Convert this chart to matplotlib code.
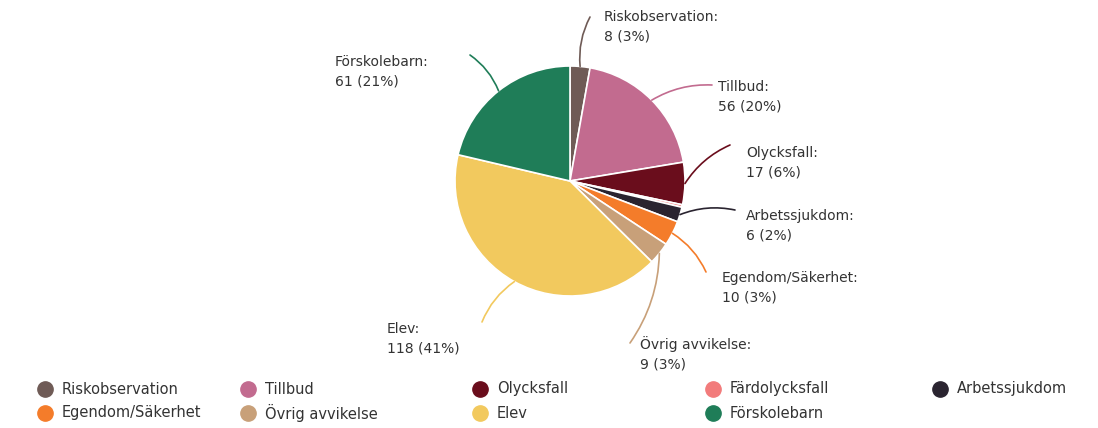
import numpy as np
import matplotlib.pyplot as plt

# slice data (clockwise from 12 o'clock)
categories = ['Riskobservation', 'Tillbud', 'Olycksfall', 'Färdolycksfall', 'Arbetssjukdom',
              'Egendom/Säkerhet', 'Övrig avvikelse', 'Elev', 'Förskolebarn']
counts = [8, 56, 17, 1, 6, 10, 9, 118, 61]
percents = [3, 20, 6, 0, 2, 3, 3, 41, 21]
colors = ['#6f5b56', '#c26b8f', '#6a0d1c', '#f27b7b', '#2a2430',
          '#f47c2a', '#c8a079', '#f2c95e', '#1f7d58']
show_label = [True, True, True, False, True, True, True, True, True]

# label text anchor (left x, top y in pixel coords from top), layout only
label_pos = {
    'Riskobservation': (604, 10),
    'Tillbud': (718, 80),
    'Olycksfall': (746, 146),
    'Arbetssjukdom': (746, 209),
    'Egendom/Säkerhet': (722, 271),
    'Övrig avvikelse': (640, 336),
    'Elev': (387, 322),
    'Förskolebarn': (335, 55),
}
line_end = {
    'Riskobservation': (590, 17),
    'Tillbud': (712, 85),
    'Olycksfall': (730, 145),
    'Arbetssjukdom': (735, 210),
    'Egendom/Säkerhet': (706, 272),
    'Övrig avvikelse': (630, 343),
    'Elev': (482, 322),
    'Förskolebarn': (470, 55),
}

# legend grid: row-major like the original
legend_cols = [45, 248, 480, 713, 940]
legend_rows = [389, 413]

W, H = 1098, 428
fig = plt.figure(figsize=(W / 100, H / 100), dpi=100)
ax = fig.add_axes([0, 0, 1, 1])

cx, cy, r = 570, H - 181, 115
wedges, _ = ax.pie(counts, colors=colors, startangle=90, counterclock=False,
                   center=(cx, cy), radius=r,
                   wedgeprops=dict(edgecolor='white', linewidth=1.2))
ax.set_xlim(0, W)
ax.set_ylim(0, H)
ax.set_aspect('equal')
ax.axis('off')

for w, name, n, p, show in zip(wedges, categories, counts, percents, show_label):
    if not show:
        continue
    mid = np.deg2rad((w.theta1 + w.theta2) / 2)
    ex, ey = cx + r * np.cos(mid), cy + r * np.sin(mid)
    lx, ly = line_end[name]
    rad = 0.15 if ex > cx else -0.15
    ax.annotate('', xy=(ex, ey), xytext=(lx, H - ly),
                arrowprops=dict(arrowstyle='-', color=w.get_facecolor(), lw=1.2,
                                connectionstyle='arc3,rad=%s' % rad,
                                shrinkA=0, shrinkB=0))
    tx, ty = label_pos[name]
    ax.text(tx, H - ty, '%s:\n%d (%d%%)' % (name, n, p), ha='left', va='top',
            fontsize=10, color='#333333', linespacing=1.5)

for i, (name, c) in enumerate(zip(categories, colors)):
    mx = legend_cols[i % 5]
    my = H - legend_rows[i // 5]
    ax.plot(mx, my, 'o', markersize=11, color=c)
    ax.text(mx + 17, my, name, ha='left', va='center', fontsize=10.5, color='#333333')

fig.savefig('out.png', dpi=100, facecolor='white')
